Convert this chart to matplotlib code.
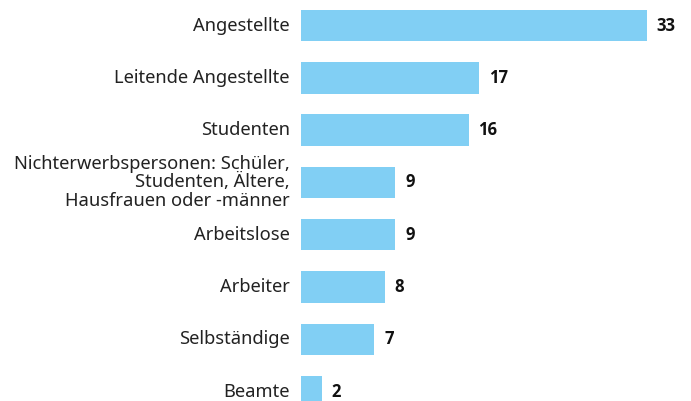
import matplotlib.pyplot as plt

categories = ['Angestellte', 'Leitende Angestellte', 'Studenten',
              'Nichterwerbspersonen: Schüler,\nStudenten, Ältere,\nHausfrauen oder -männer',
              'Arbeitslose', 'Arbeiter', 'Selbständige', 'Beamte']
values = [33, 17, 16, 9, 9, 8, 7, 2]

plt.rcParams['font.family'] = ['Noto Sans', 'DejaVu Sans']

W, H = 691, 401
fig = plt.figure(figsize=(W / 100, H / 100), dpi=100)
ax = fig.add_axes([301 / W, 0, 346 / W, 1])

pos = list(range(len(values)))
ax.barh(pos, values, height=0.6, color='#81cff4')
ax.set_xlim(0, 33)
ax.set_ylim(7.18, -0.488)

for y, v, lab in zip(pos, values, categories):
    ax.annotate(str(v), (v, y), xytext=(7, 0), textcoords='offset points',
                va='center', ha='left', fontsize=12, fontweight='bold',
                family=['Open Sans', 'DejaVu Sans'], color='#111111')
    ax.annotate(lab, (0, y), xytext=(-8, 0), textcoords='offset points',
                va='center', ha='right', fontsize=13.2, color='#222222',
                linespacing=1.03, multialignment='right')

ax.axis('off')
fig.savefig('out.png', dpi=100)
